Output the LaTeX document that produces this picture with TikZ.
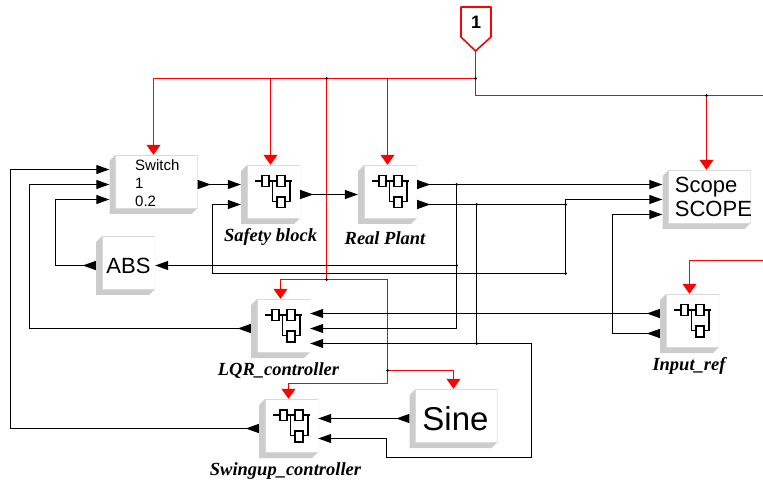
\documentclass[tikz,border=0pt]{standalone}
\usepackage{fontspec}
\setmainfont{Liberation Sans}
\newfontfamily\capfont{Liberation Serif}
\usetikzlibrary{calc}
\usetikzlibrary{arrows.meta}
\definecolor{bevelgray}{HTML}{CCCCCC}
\definecolor{faceline}{HTML}{DADADA}
\tikzset{
block/.style={inner sep=0pt, minimum width=59pt, minimum height=59pt, path picture={
\fill[bevelgray] ($(path picture bounding box.north west)+(6pt,0pt)$) -- ($(path picture bounding box.north west)+(0pt,-6pt)$) -- (path picture bounding box.south west) -- ($(path picture bounding box.south east)+(-6pt,0pt)$) -- ($(path picture bounding box.south east)+(0pt,6pt)$) -- cycle;
\draw[faceline, fill=white] ($(path picture bounding box.north west)+(6pt,0pt)$) rectangle ($(path picture bounding box.south east)+(0pt,6pt)$);
}},
wideblock/.style={block, minimum width=88pt},
wire/.style={black, line width=1pt, -{Triangle[length=13pt, width=9pt]}},
outwire/.style={black, line width=1pt, {Triangle[reversed, length=13pt, width=9pt]}-{Triangle[length=13pt, width=9pt]}},
tapwire/.style={black, line width=1pt},
redline/.style={red, line width=1pt},
redwire/.style={red, line width=1pt, -{Triangle[length=10pt, width=14pt]}},
dot/.style={circle, fill=black, inner sep=0pt, minimum size=3pt},
caption/.style={font=\capfont\bfseries\itshape\fontsize{18.5}{20}\selectfont, inner sep=0pt},
}

\begin{document}
\begin{tikzpicture} [x=1pt, y=-1pt]
\useasboundingbox (0,0) rectangle (763,486);

\node[wideblock] (switch) at (153.5,184.5) {};
\node[block] (safety) at (270.5,194.5) {};
\node[block] (plant) at (387.5,194.5) {};
\node[block, font=\fontsize{22}{24}\selectfont] (abs) at (125.5,265.5) {\hspace*{6pt}ABS};
\node[wideblock] (scope) at (706.5,199.5) {};
\node[block] (inref) at (689.5,323.5) {};
\node[block] (lqr) at (280.5,328.5) {};
\node[block] (swing) at (288.5,428.5) {};
\node[wideblock, font=\fontsize{33}{36}\selectfont] (sine) at (453.5,418.5) {\hspace*{4pt}Sine};

\node[anchor=west, align=left, inner sep=0pt, font=\fontsize{15}{18}\selectfont] (switchtext) at (135,183) {Switch\\1\\0.2};
\node[anchor=west, align=left, inner sep=0pt, font=\fontsize{22}{23.5}\selectfont] (scopetext) at (674.7,197) {Scope\\SCOPE};

\node[caption] (safetycap) at (270.5,237) {Safety block};
\node[caption] (plantcap) at (385,238) {Real Plant};
\node[caption] (lqrcap) at (278.5,371) {LQR\_controller};
\node[caption] (inrefcap) at (689,366) {Input\_ref};
\node[caption] (swingcap) at (285.5,471) {Swingup\_controller};

% the little subsystem glyph
\foreach \b in {safety,plant,lqr,swing,inref}
{
\begin{scope}[shift={(\b.north west)}, line width=1.4pt]
\draw (14,16.3)--(21,16.3);
\draw (21,11) rectangle (28,21.7);
\draw (28,16.3)--(36,16.3);
\draw (36,11) rectangle (44,21.7);
\draw (44,16.3)--(51,16.3);
\draw (31.7,16.3)--(31.7,36.7)--(36,36.7);
\draw (36,32.3) rectangle (44,43);
\draw (44,36.7)--(49,36.7)--(49,16.3);
\end{scope}
}

% inport
\draw[red, line width=1.6pt, line join=round] (461,7)--(491,7)--(491,37)--(475.5,51)--(461,37)--cycle;
\node[font=\bfseries\fontsize{18}{20}\selectfont, inner sep=0pt] (inport) at (476,22) {1};
\coordinate (tip) at (475.5,51);

% red lines
\coordinate (ra) at (475.5,78.5);
\coordinate (rb) at (326.5,78.5);
\coordinate (rc) at (706.5,95.5);
\coordinate (rd) at (326.5,279.5);
\coordinate (re) at (387.5,279.5);
\coordinate (rf) at (387.5,370.5);
\coordinate (rg) at (387.5,383.5);
\coordinate (rh) at (763,260.5);
\draw[redline] (tip)--(475.5,95.5)--(763,95.5);
\draw[redwire] (ra) -| (switch.north);
\draw[redwire] (ra) -| (safety.north);
\draw[redwire] (ra) -| (plant.north);
\draw[redwire] (rc) -- (scope.north);
\draw[redline] (rb)--(rd);
\draw[redwire] (re) -| (lqr.north);
\draw[redline] (re)--(rg);
\draw[redwire] (rf) -| (sine.north);
\draw[redwire] (rg) -| (swing.north);
\draw[redwire] (rh) -| (inref.north);

% black lines
\coordinate (ja) at (456.5,184.5);
\coordinate (jb) at (565.5,204.5);
\coordinate (jc) at (456.5,265.5);
\coordinate (jd) at (565.5,273.5);
\coordinate (je) at (476.5,204.5);
\coordinate (jf) at (476.5,343.5);
\draw[outwire] (switch.east) -- ([yshift=10pt]safety.west);
\draw[outwire] (safety.east) -- (plant.west);
\draw[outwire] ([yshift=10pt]plant.east) -- ([yshift=15pt]scope.west);
\draw[outwire] ([yshift=-10pt]plant.east) -- (jb) |- (scope.west);
\draw[wire] (ja) |- (lqr.east);
\draw[wire] (jc) -- (abs.east);
\draw[tapwire] (jb) -- (jd);
\draw[wire] (jd) -- (212.5,273.5) |- ([yshift=-10pt]safety.west);
\draw[wire] (je) |- ([yshift=-15pt]lqr.east);
\draw[wire] (jf) -- (531.5,343.5) -- (531.5,457.5) -- (386.5,457.5) |- ([yshift=-10pt]swing.east);
\draw[outwire] (sine.west) -- ([yshift=10pt]swing.east);
\draw[outwire] (abs.west) -- (55.5,265.5) |- ([yshift=-15pt]switch.west);
\draw[outwire] (lqr.west) -- (29.5,328.5) |- (switch.west);
\draw[outwire] (swing.west) -- (10.5,428.5) |- ([yshift=15pt]switch.west);
\draw[outwire] ([yshift=10pt]inref.west) -- ([yshift=15pt]lqr.east);
\draw[outwire] ([yshift=-10pt]inref.west) -- (612.5,333.5) |- ([yshift=-15pt]scope.west);

\foreach \p in {ra,rb,rc,rd,rf,ja,jb,jc,jd,je,jf}
{
\node[dot] (dot\p) at (\p) {};
}
\end{tikzpicture}
\end{document}
